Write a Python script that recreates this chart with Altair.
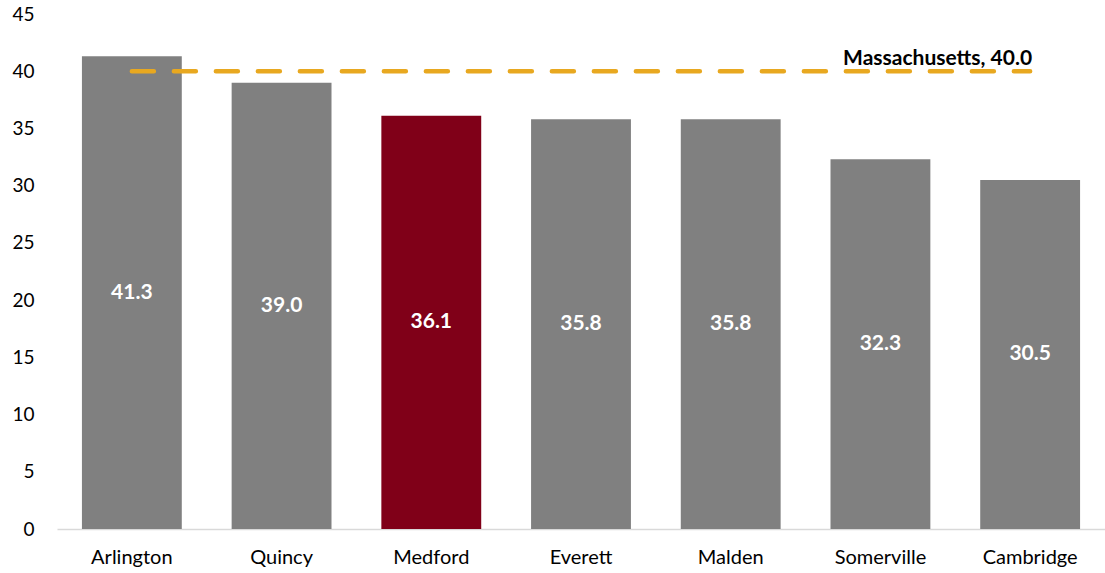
import altair as alt
import pandas as pd

cities = ["Arlington", "Quincy", "Medford", "Everett", "Malden", "Somerville", "Cambridge"]
values = [41.3, 39.0, 36.1, 35.8, 35.8, 32.3, 30.5]
highlight = ["Medford"]
state_name = "Massachusetts"
state_value = 40.0

FONT = "Lato"

df = pd.DataFrame({"city": cities, "value": values})
df["mid"] = df["value"] / 2
df["label"] = df["value"].map(lambda v: f"{v:.1f}")
df["color"] = ["#800018" if c in highlight else "#808080" for c in cities]

line_df = pd.DataFrame({"city": cities, "value": [state_value] * len(cities)})
lab_df = pd.DataFrame({"city": [cities[-1]], "value": [state_value],
                       "label": [f"{state_name}, {state_value:.1f}"]})

x = alt.X("city:N", sort=cities, title=None,
          scale=alt.Scale(paddingInner=0.333, paddingOuter=0.1665),
          axis=alt.Axis(labelAngle=0, ticks=False, domainColor="#d9d9d9", domainWidth=1.5,
                        labelFontSize=20, labelFont=FONT, labelColor="#000000", labelPadding=18))
y = alt.Y("value:Q", title=None,
          scale=alt.Scale(domain=[0, 45], nice=False),
          axis=alt.Axis(values=list(range(0, 50, 5)), grid=False, domain=False, ticks=False,
                        labelFontSize=19, labelFont=FONT, labelColor="#000000", labelPadding=23))

bars = alt.Chart(df).mark_bar().encode(x=x, y=y, color=alt.Color("color:N", scale=None))
texts = alt.Chart(df).mark_text(color="white", fontWeight="bold", fontSize=21, font=FONT).encode(
    x=alt.X("city:N", sort=cities), y=alt.Y("mid:Q"), text="label:N")
line = alt.Chart(line_df).mark_line(color="#E8A820", strokeWidth=4.5, strokeDash=[22, 20],
                                    strokeCap="round").encode(
    x=alt.X("city:N", sort=cities), y=alt.Y("value:Q"))
state_lab = alt.Chart(lab_df).mark_text(align="right", baseline="bottom", dy=-2, dx=2,
                                        fontWeight="bold", fontSize=21, font=FONT, color="#000000").encode(
    x=alt.X("city:N", sort=cities), y=alt.Y("value:Q"), text="label:N")

chart = alt.layer(bars, texts, line, state_lab).properties(
    width=1048, height=515,
    background="white",
    autosize=alt.AutoSizeParams(type="none"),
    padding={"left": 57, "top": 14, "right": 0, "bottom": 44},
).configure_view(strokeWidth=0, stroke="transparent")

chart.save("out.html", embed_options={"renderer": "svg", "actions": False})
